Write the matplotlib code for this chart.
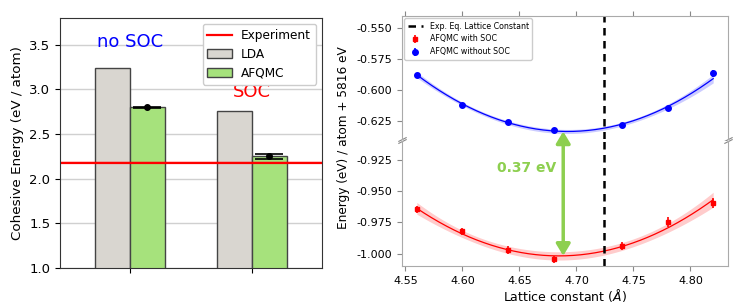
import numpy as np
import matplotlib
matplotlib.use("Agg")
import matplotlib.pyplot as plt
from matplotlib.patches import ConnectionPatch

# ---------------- data ----------------
groups = ["no SOC", "SOC"]
lda_vals = [3.24, 2.76]
afqmc_vals = [2.80, 2.25]
afqmc_err = [0.006, 0.027]
experiment = 2.18

lat_soc = [4.56, 4.60, 4.64, 4.68, 4.74, 4.78, 4.82]
e_soc = [-0.9646, -0.9822, -0.9973, -1.0046, -0.9940, -0.9746, -0.9599]
err_soc = [0.003, 0.003, 0.003, 0.003, 0.003, 0.004, 0.004]

lat_nosoc = [4.56, 4.60, 4.64, 4.68, 4.74, 4.78, 4.82]
e_nosoc = [-0.5880, -0.6121, -0.6258, -0.6323, -0.6290, -0.6149, -0.5865]
err_nosoc = [0.0015, 0.0015, 0.0015, 0.0015, 0.0015, 0.0015, 0.003]

exp_lattice = 4.724
gap_label = "0.37 eV"

W, H = 747, 306
fig = plt.figure(figsize=(W / 100, H / 100), dpi=100)

# ---------------- left panel ----------------
ax = fig.add_axes([60 / W, 1 - 268 / H, 262 / W, 250 / H])
x = np.arange(len(groups))
bw = 0.283
ax.bar(x - bw / 2, lda_vals, bw, color="#d9d6d0", edgecolor="#444444", linewidth=1.0, label="LDA")
ax.bar(x + bw / 2, afqmc_vals, bw, color="#a6e27c", edgecolor="#444444", linewidth=1.0, label="AFQMC")
ax.errorbar(x + bw / 2, afqmc_vals, yerr=afqmc_err, fmt="o", color="black",
            markersize=4, capsize=10, elinewidth=1.2, capthick=1.2)
ax.axhspan(experiment - 0.02, experiment + 0.02, color="red", alpha=0.15, lw=0)
ax.axhline(experiment, color="red", lw=1.6, label="Experiment")
ax.set_ylim(1.0, 3.8)
ax.set_xlim(-0.574, 1.574)
ax.set_xticks(x)
ax.set_xticklabels(["", ""])
ax.set_yticks([1.0, 1.5, 2.0, 2.5, 3.0, 3.5])
ax.yaxis.grid(True, color="#d0d0d0", lw=1.0)
ax.set_axisbelow(True)
ax.tick_params(labelsize=9.5)
ax.set_ylabel("Cohesive Energy (eV / atom)", fontsize=9.7)
for s in ax.spines.values():
    s.set_color("#333333")
ax.text(0, 3.53, groups[0], color="blue", fontsize=13, ha="center", va="center")
ax.text(1, 2.97, groups[1], color="red", fontsize=13, ha="center", va="center")
handles, labels = ax.get_legend_handles_labels()
order = [labels.index("Experiment"), labels.index("LDA"), labels.index("AFQMC")]
ax.legend([handles[i] for i in order], [labels[i] for i in order],
          loc="upper right", fontsize=8.7, framealpha=1.0)

# ---------------- right panel (broken axis) ----------------
axt = fig.add_axes([402 / W, 1 - 139 / H, 326 / W, 123 / H])
axb = fig.add_axes([402 / W, 1 - 266 / H, 326 / W, 125 / H], sharex=axt)


def fit_band(xs, ys, es, xx):
    coef, cov = np.polyfit(xs, ys, 2, w=1 / np.asarray(es), cov="unscaled")
    A = np.vstack([xx ** 2, xx, np.ones_like(xx)]).T
    yy = A @ coef
    sig = np.sqrt(np.einsum("ij,jk,ik->i", A, cov, A))
    return coef, yy, sig


xx = np.linspace(min(lat_soc), max(lat_soc), 200)
c_soc, y_soc, s_soc = fit_band(np.array(lat_soc), np.array(e_soc), err_soc, xx)
c_no, y_no, s_no = fit_band(np.array(lat_nosoc), np.array(e_nosoc), err_nosoc, xx)

axb.fill_between(xx, y_soc - 1.8 * s_soc, y_soc + 1.8 * s_soc, color="red", alpha=0.2, lw=0)
axb.plot(xx, y_soc, color="red", lw=0.9)
axt.fill_between(xx, y_no - 1.8 * s_no, y_no + 1.8 * s_no, color="blue", alpha=0.2, lw=0)
axt.plot(xx, y_no, color="blue", lw=0.9)

for a in (axt, axb):
    a.errorbar(lat_soc, e_soc, yerr=err_soc, fmt="s", color="red", markersize=3.5,
               elinewidth=1.2, label="AFQMC with SOC")
    a.errorbar(lat_nosoc, e_nosoc, yerr=err_nosoc, fmt="o", color="blue", markersize=4,
               elinewidth=1.2, label="AFQMC without SOC")
    a.axvline(exp_lattice, color="black", ls="--", lw=1.8, dashes=(3, 2.2),
              label="Exp. Eq. Lattice Constant")
    for s in a.spines.values():
        s.set_color("#aaaaaa")
    a.tick_params(colors="#888888", labelcolor="black", labelsize=8)

axt.set_ylim(-0.64, -0.54)
axb.set_ylim(-1.01, -0.91)
axt.set_yticks([-0.625, -0.600, -0.575, -0.550])
axb.set_yticks([-1.000, -0.975, -0.950, -0.925])
axt.yaxis.set_major_formatter(matplotlib.ticker.FormatStrFormatter("%.3f"))
axb.yaxis.set_major_formatter(matplotlib.ticker.FormatStrFormatter("%.3f"))
axt.spines["bottom"].set_visible(False)
axb.spines["top"].set_visible(False)
axt.xaxis.tick_top()
axt.tick_params(labeltop=False)
axb.xaxis.tick_bottom()
axb.set_xticks([4.55, 4.60, 4.65, 4.70, 4.75, 4.80])
axb.xaxis.set_major_formatter(matplotlib.ticker.FormatStrFormatter("%.2f"))
axb.set_xlabel(r"Lattice constant ($\AA$)", fontsize=9, labelpad=1)

h, l = axt.get_legend_handles_labels()
order = [l.index("Exp. Eq. Lattice Constant"), l.index("AFQMC with SOC"), l.index("AFQMC without SOC")]
axt.legend([h[i] for i in order], [l[i] for i in order], loc="upper left",
           fontsize=5.7, framealpha=1.0, borderaxespad=0.3)

# break marks
kw = dict(marker=[(-1, -0.5), (1, 0.5)], markersize=6, linestyle="none",
          color="#888888", mec="#888888", mew=0.8, clip_on=False)
axt.plot([0, 1], [0, 0], transform=axt.transAxes, **kw)
axb.plot([0, 1], [1, 1], transform=axb.transAxes, **kw)

# arrow between fit minima
x0 = 0.5 * (-c_soc[1] / (2 * c_soc[0]) - c_no[1] / (2 * c_no[0]))
yb = np.polyval(c_no, x0)
yr = np.polyval(c_soc, x0)
green = "#8dcf4f"
con = ConnectionPatch(xyA=(x0, yb), coordsA=axt.transData,
                      xyB=(x0, yr), coordsB=axb.transData,
                      arrowstyle="<|-|>,head_length=0.5,head_width=0.3", mutation_scale=14,
                      color=green, lw=2.5, shrinkA=0, shrinkB=0)
fig.add_artist(con)
axb.text(x0 - 0.006, -0.932, gap_label, color=green, fontsize=10, fontweight="bold",
         ha="right", va="center")

fig.text(343 / W, 1 - 138 / H, "Energy (eV) / atom + 5816 eV", rotation=90,
         ha="center", va="center", fontsize=8.7)

fig.savefig("out.png", dpi=100)
